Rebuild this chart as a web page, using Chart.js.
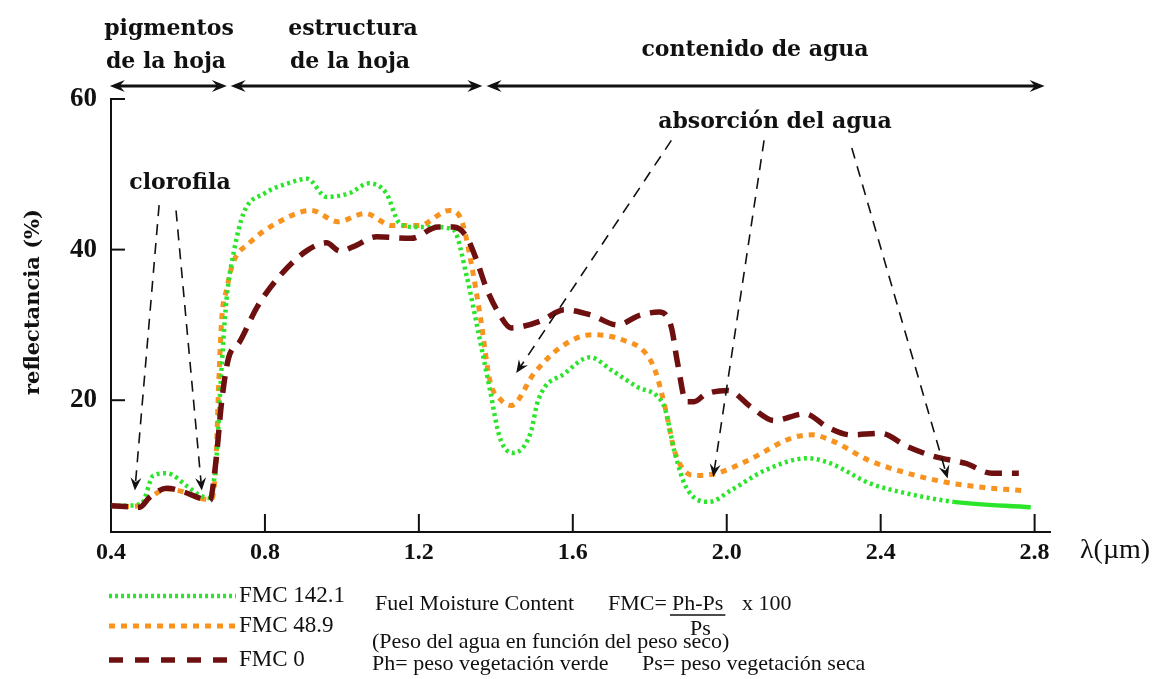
<!DOCTYPE html>
<html>
<head>
<meta charset="utf-8">
<script src="https://cdn.jsdelivr.net/npm/chart.js@4/dist/chart.umd.min.js"></script>
<style>
  html, body { margin: 0; padding: 0; background: #fff; }
</style>
</head>
<body>
<canvas id="chart" width="1161" height="679"></canvas>
<script>
// longitud de onda (µm) y reflectancia (%) por serie
const wl142 = [0.40, 0.44, 0.48, 0.51, 0.545, 0.60, 0.63, 0.655, 0.675, 0.685, 0.70, 0.72, 0.745, 0.80, 0.86, 0.91, 0.96, 1.02, 1.07, 1.115, 1.15, 1.19, 1.24, 1.29, 1.325, 1.355, 1.385, 1.41, 1.445, 1.49, 1.51, 1.58, 1.645, 1.70, 1.77, 1.82, 1.84, 1.865, 1.895, 1.955, 2.01, 2.10, 2.21, 2.27, 2.37, 2.47, 2.59, 2.79];
const fmc142 = [6.0, 6.0, 6.3, 10.0, 10.3, 8.5, 7.4, 7.0, 13.0, 22.3, 33.3, 39.9, 44.9, 47.5, 48.8, 49.4, 47.0, 47.5, 48.8, 47.5, 43.5, 43.0, 43.0, 42.6, 36.3, 28.9, 21.3, 15.1, 13.0, 15.6, 20.0, 23.6, 25.7, 24.0, 21.7, 20.5, 18.8, 13.0, 8.4, 6.5, 8.0, 10.7, 12.3, 11.6, 9.0, 7.6, 6.5, 5.8];

const wl49 = [0.40, 0.44, 0.475, 0.50, 0.545, 0.59, 0.63, 0.66, 0.672, 0.68, 0.688, 0.70, 0.717, 0.76, 0.83, 0.92, 0.99, 1.06, 1.13, 1.20, 1.28, 1.31, 1.335, 1.36, 1.385, 1.41, 1.44, 1.50, 1.57, 1.65, 1.73, 1.79, 1.815, 1.84, 1.866, 1.915, 1.975, 2.055, 2.17, 2.22, 2.27, 2.37, 2.47, 2.57, 2.67, 2.77];
const fmc49 = [6.0, 5.9, 6.0, 7.0, 8.2, 7.8, 7.0, 6.8, 11.0, 22.3, 31.0, 34.6, 38.2, 40.9, 43.5, 45.2, 43.7, 44.8, 43.2, 43.2, 45.2, 44.0, 38.5, 31.0, 22.5, 20.2, 19.3, 23.6, 27.1, 28.7, 28.0, 26.2, 23.8, 19.0, 13.0, 10.0, 10.3, 12.0, 15.0, 15.4, 14.7, 12.0, 10.3, 9.1, 8.4, 8.0];

const wl0 = [0.40, 0.475, 0.50, 0.545, 0.59, 0.63, 0.657, 0.672, 0.688, 0.705, 0.735, 0.78, 0.84, 0.91, 0.96, 0.995, 1.03, 1.09, 1.18, 1.25, 1.29, 1.324, 1.35, 1.376, 1.405, 1.44, 1.47, 1.52, 1.578, 1.648, 1.716, 1.775, 1.825, 1.856, 1.872, 1.895, 1.915, 1.945, 2.003, 2.063, 2.123, 2.203, 2.263, 2.323, 2.40, 2.471, 2.541, 2.621, 2.689, 2.759];
const fmc0 = [6.0, 5.8, 7.1, 8.3, 7.8, 7.0, 6.7, 11.6, 20.0, 25.5, 27.8, 32.4, 36.6, 39.9, 40.9, 39.8, 40.4, 41.7, 41.5, 43.0, 43.0, 41.7, 38.6, 34.8, 31.8, 29.6, 29.8, 30.6, 32.0, 31.3, 30.0, 31.3, 31.7, 29.7, 25.0, 19.8, 19.8, 20.8, 21.3, 19.1, 17.3, 18.2, 16.4, 15.4, 15.6, 13.8, 12.5, 11.6, 10.3, 10.3];

const xTicks = [0.4, 0.8, 1.2, 1.6, 2.0, 2.4, 2.8];
const yTicks = [20, 40, 60];

// flechas de anotación [x0, y0, x1, y1] en unidades de datos
const clorofilaArrows = [[0.525, 45.9, 0.462, 8.0], [0.569, 45.2, 0.636, 8.0]];
const aguaArrows = [[1.856, 54.5, 1.453, 23.6], [2.097, 54.5, 1.965, 9.8], [2.325, 53.5, 2.574, 9.6]];
const bandEdges = [[0.397, 0.701], [0.711, 1.365], [1.376, 2.826]];

const GREEN = '#2be52b';
const ORANGE = '#f7931e';
const BROWN = '#6e1010';
const INK = '#111';

const toPoints = (xs, ys) => xs.map((x, i) => ({ x, y: ys[i] }));

function arrowHead(ctx, x1, y1, x2, y2, len, half) {
  const a = Math.atan2(y2 - y1, x2 - x1);
  ctx.save();
  ctx.translate(x2, y2);
  ctx.rotate(a);
  ctx.beginPath();
  ctx.moveTo(0, 0);
  ctx.lineTo(-len, -half);
  ctx.lineTo(-len * 0.65, 0);
  ctx.lineTo(-len, half);
  ctx.closePath();
  ctx.fill();
  ctx.restore();
}

const decorations = {
  id: 'decorations',
  afterDraw(chart) {
    const { ctx, chartArea, scales } = chart;
    const { x, y } = scales;
    ctx.save();
    ctx.strokeStyle = INK;
    ctx.fillStyle = INK;

    // marcas de los ejes, hacia dentro
    ctx.lineWidth = 2;
    ctx.setLineDash([]);
    xTicks.slice(1).forEach(v => {
      const px = x.getPixelForValue(v);
      ctx.beginPath();
      ctx.moveTo(px, chartArea.bottom);
      ctx.lineTo(px, chartArea.bottom - 18);
      ctx.stroke();
    });
    yTicks.forEach(v => {
      const py = y.getPixelForValue(v);
      ctx.beginPath();
      ctx.moveTo(chartArea.left, py);
      ctx.lineTo(chartArea.left + 14, py);
      ctx.stroke();
    });

    // bandas superiores
    const bandY = chartArea.top - 13;
    ctx.lineWidth = 3;
    bandEdges.forEach(([a, b]) => {
      const xa = x.getPixelForValue(a), xb = x.getPixelForValue(b);
      ctx.beginPath();
      ctx.moveTo(xa + 8, bandY);
      ctx.lineTo(xb - 8, bandY);
      ctx.stroke();
      arrowHead(ctx, xb, bandY, xa, bandY, 15, 6);
      arrowHead(ctx, xa, bandY, xb, bandY, 15, 6);
    });

    ctx.font = 'bold 22px "DejaVu Serif"';
    ctx.textAlign = 'center';
    ctx.textBaseline = 'alphabetic';
    ctx.fillText('pigmentos', 169, 35);
    ctx.fillText('de la hoja', 166, 68);
    ctx.fillText('estructura', 353, 35);
    ctx.fillText('de la hoja', 350, 68);
    ctx.fillText('contenido de agua', 755, 56);
    ctx.fillText('absorción del agua', 775, 128);
    ctx.fillText('clorofila', 180, 189);

    // flechas discontinuas
    ctx.lineWidth = 1.6;
    [...clorofilaArrows, ...aguaArrows].forEach(([x0, y0, x1, y1]) => {
      const p0x = x.getPixelForValue(x0), p0y = y.getPixelForValue(y0);
      const p1x = x.getPixelForValue(x1), p1y = y.getPixelForValue(y1);
      const d = Math.hypot(p1x - p0x, p1y - p0y);
      const ex = p1x - (p1x - p0x) / d * 8, ey = p1y - (p1y - p0y) / d * 8;
      ctx.setLineDash([11, 8]);
      ctx.beginPath();
      ctx.moveTo(p0x, p0y);
      ctx.lineTo(ex, ey);
      ctx.stroke();
      ctx.setLineDash([]);
      arrowHead(ctx, p0x, p0y, p1x, p1y, 13, 5.5);
    });

    // título eje y
    ctx.save();
    ctx.translate(34, 302);
    ctx.rotate(-Math.PI / 2);
    ctx.font = 'bold 21px "DejaVu Serif"';
    ctx.textAlign = 'center';
    ctx.textBaseline = 'middle';
    ctx.fillText('reflectancia (%)', 0, 0);
    ctx.restore();

    // unidad eje x
    ctx.font = '28px "Liberation Serif"';
    ctx.textAlign = 'left';
    ctx.textBaseline = 'middle';
    ctx.fillText('λ(µm)', 1080, 551);

    // leyenda
    const rows = [596, 626, 660];
    chart.data.datasets.forEach((ds, i) => {
      ctx.strokeStyle = ds.borderColor;
      ctx.lineWidth = ds.borderWidth;
      ctx.setLineDash(ds.legendDash);
      ctx.beginPath();
      ctx.moveTo(109, rows[i]);
      ctx.lineTo(236, rows[i]);
      ctx.stroke();
      ctx.setLineDash([]);
      ctx.fillStyle = INK;
      ctx.font = '23px "Liberation Serif"';
      ctx.fillText(ds.label, 239, rows[i]);
    });

    ctx.font = '22px "Liberation Serif"';
    ctx.fillStyle = INK;
    ctx.fillText('Fuel Moisture Content', 375, 604);
    ctx.fillText('FMC=', 608, 604);
    ctx.fillText('Ph-Ps', 672, 604);
    const w = ctx.measureText('Ph-Ps').width;
    ctx.strokeStyle = INK;
    ctx.lineWidth = 1.5;
    ctx.beginPath();
    ctx.moveTo(670, 615);
    ctx.lineTo(672 + w + 2, 615);
    ctx.stroke();
    ctx.fillText('x 100', 742, 604);
    ctx.fillText('Ps', 690, 629);
    ctx.fillText('(Peso del agua en función del peso seco)', 372, 642);
    ctx.fillText('Ph= peso vegetación verde', 372, 664);
    ctx.fillText('Ps= peso vegetación seca', 642, 664);

    ctx.restore();
  }
};

new Chart(document.getElementById('chart'), {
  type: 'line',
  data: {
    datasets: [
      {
        label: 'FMC 142.1',
        data: toPoints(wl142, fmc142),
        borderColor: GREEN,
        borderWidth: 4.5,
        borderDash: [3, 3.5],
        legendDash: [3, 3],
        segment: { borderDash: c => (c.p0.parsed.x >= 2.58 ? [] : undefined) },
        order: 1
      },
      {
        label: 'FMC 48.9',
        data: toPoints(wl49, fmc49),
        borderColor: ORANGE,
        borderWidth: 5,
        borderDash: [6, 6],
        legendDash: [6, 6],
        order: 2
      },
      {
        label: 'FMC 0',
        data: toPoints(wl0, fmc0),
        borderColor: BROWN,
        borderWidth: 5.5,
        borderDash: [17, 10],
        legendDash: [14, 12],
        order: 0
      }
    ]
  },
  options: {
    responsive: false,
    devicePixelRatio: 1,
    animation: false,
    layout: { padding: { top: 99, right: 111, left: 0, bottom: 0 } },
    elements: {
      point: { radius: 0 },
      line: { cubicInterpolationMode: 'monotone', borderCapStyle: 'butt' }
    },
    plugins: { legend: { display: false }, tooltip: { enabled: false } },
    scales: {
      x: {
        type: 'linear',
        min: 0.4,
        max: 2.84,
        afterBuildTicks: s => { s.ticks = xTicks.map(v => ({ value: v })); },
        afterFit: s => { s.height = 147; },
        grid: { display: false, drawTicks: false },
        border: { display: true, color: INK, width: 2 },
        ticks: {
          autoSkip: false,
          maxRotation: 0,
          padding: 6,
          color: INK,
          font: { family: 'Liberation Serif', weight: 'bold', size: 24 },
          callback: v => v.toFixed(1)
        }
      },
      y: {
        min: 2.5,
        max: 60,
        afterBuildTicks: s => { s.ticks = yTicks.map(v => ({ value: v })); },
        afterFit: s => { s.width = 111; },
        grid: { display: false, drawTicks: false },
        border: { display: true, color: INK, width: 2 },
        ticks: {
          padding: 14,
          color: INK,
          font: { family: 'Liberation Serif', weight: 'bold', size: 27 },
          callback: v => String(v)
        }
      }
    }
  },
  plugins: [decorations]
});
</script>
</body>
</html>
